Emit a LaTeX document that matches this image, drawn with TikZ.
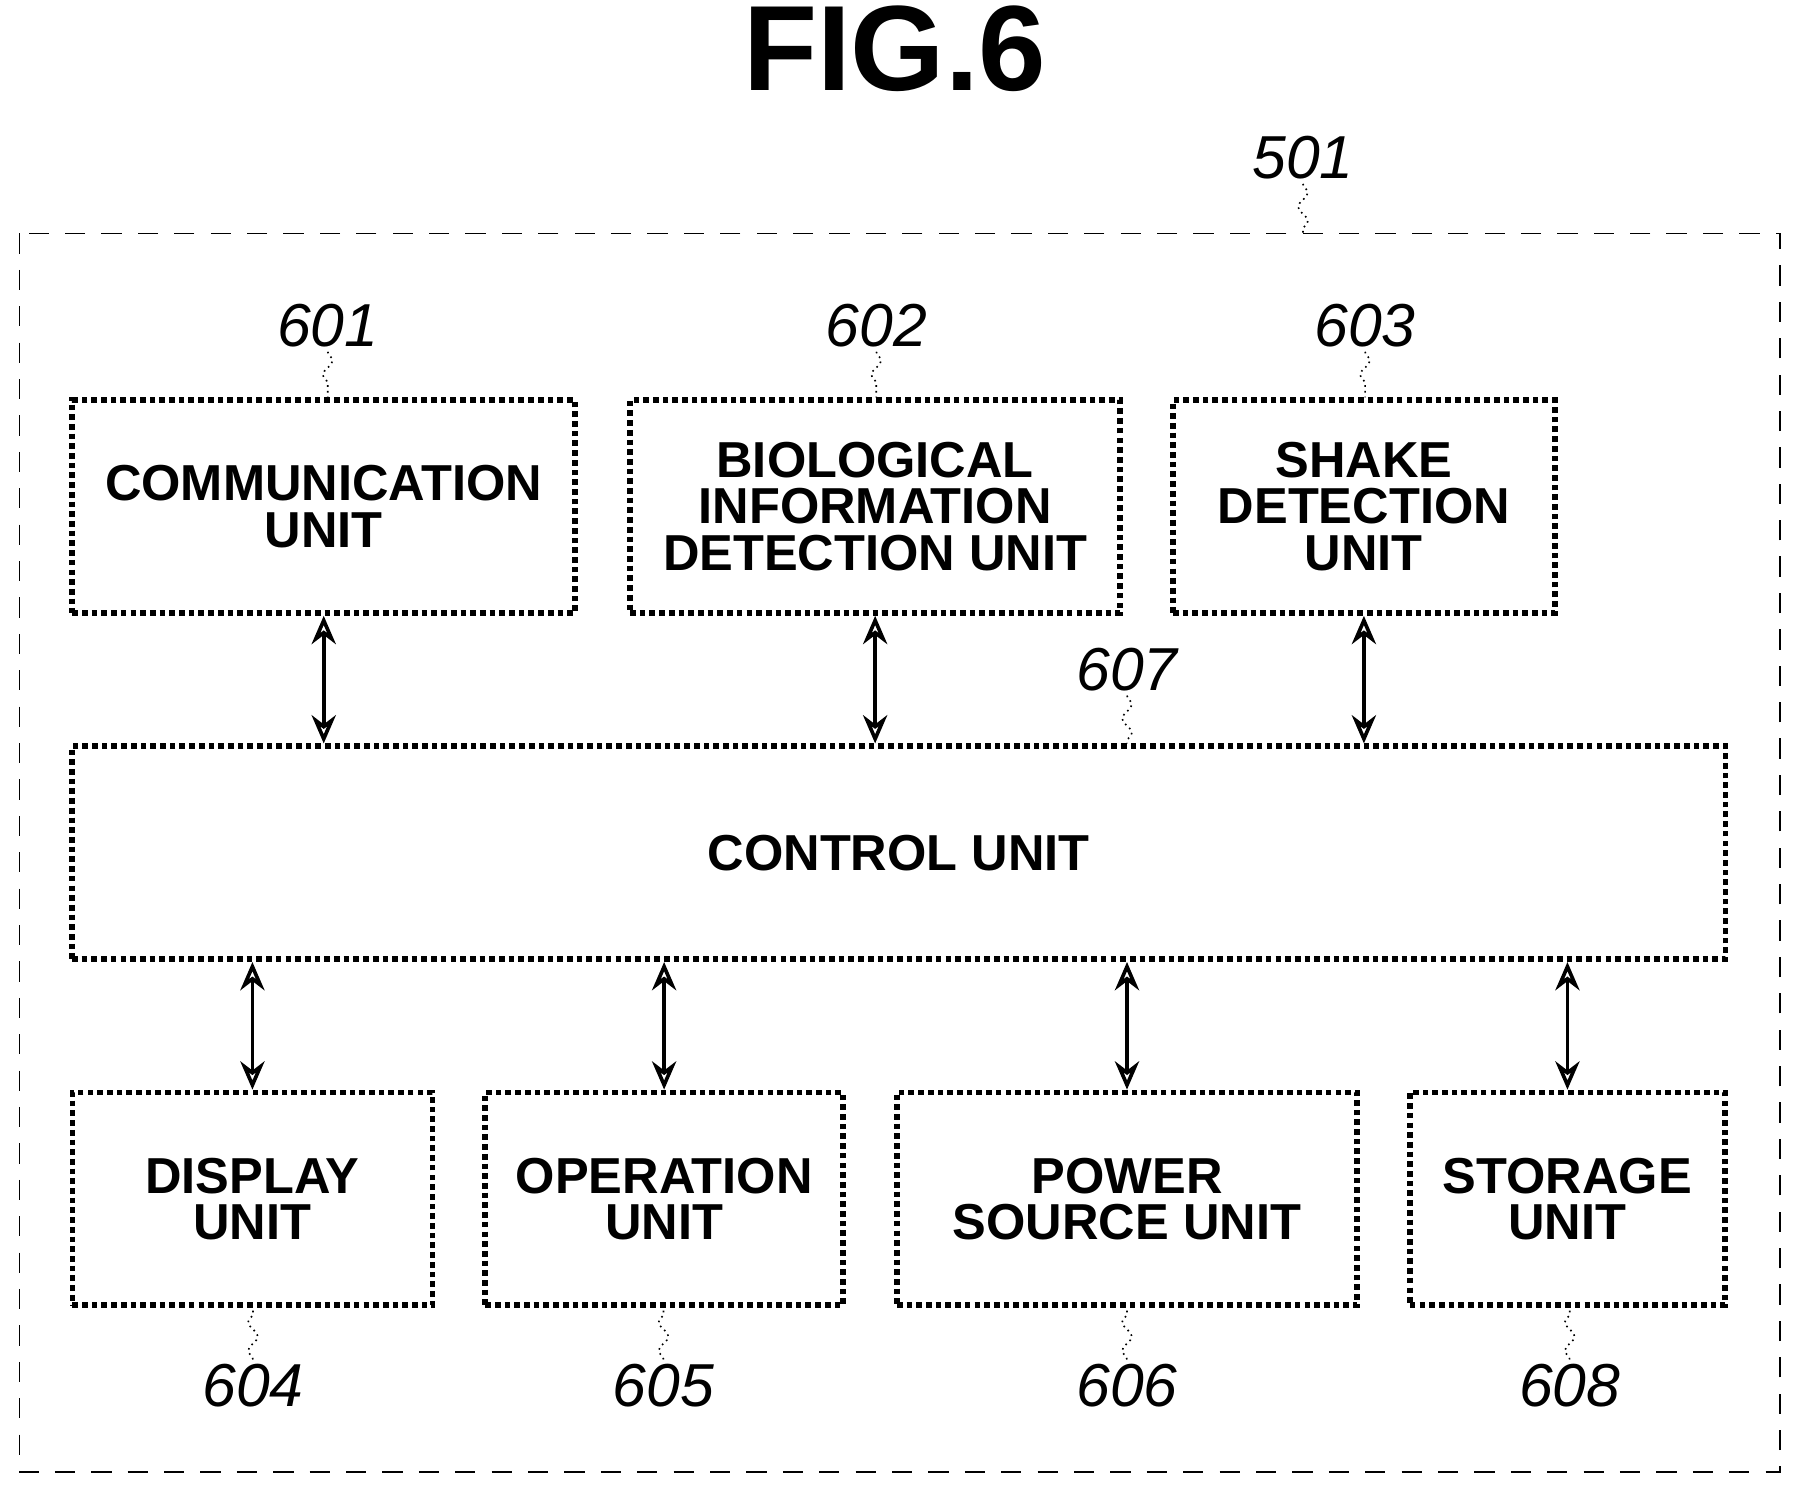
\documentclass[tikz,border=0pt]{standalone}
\usepackage{fontspec}
\setmainfont{Liberation Sans}
\usetikzlibrary{arrows.meta,decorations.pathmorphing}

\begin{document}
\begin{tikzpicture}[
    x=0.01cm, y=-0.01cm,
    block/.style={draw, densely dotted, line width=1.4pt, inner sep=0, align=center,
        minimum height=1.85cm, font=\fontsize{12.5}{11.5}\selectfont\bfseries},
    refnum/.style={font=\fontsize{15}{15}\selectfont\itshape, inner sep=1pt},
    leader/.style={densely dotted, thin, decorate,
        decoration={snake, amplitude=1.2pt, segment length=7pt}},
    link/.style={line width=0.9pt, {Stealth[open,length=7pt,width=6pt]}-{Stealth[open,length=7pt,width=6pt]}}
]
\useasboundingbox (0,0) rectangle (1560,1294);

\node[font=\fontsize{30}{30}\selectfont\bfseries] (title) at (778,42) {FIG.6};

% outer frame
\draw[thin, dash pattern=on 5pt off 4pt] (17,203) rectangle (1548,1280);
\node[refnum] (n501) at (1133,137) {501};
\draw[leader] (n501.south) -- (1133,203);

% upper row
\node[block, minimum width=4.37cm] (comm)  at (281.5,440.5) {COMMUNICATION\\UNIT};
\node[block, minimum width=4.26cm] (bio)   at (761,440.5)   {BIOLOGICAL\\INFORMATION\\DETECTION UNIT};
\node[block, minimum width=3.32cm] (shake) at (1186,440.5)  {SHAKE\\DETECTION\\UNIT};

% control
\node[block, minimum width=14.37cm] (ctrl) at (781.5,741.5) {CONTROL UNIT};

% lower row
\node[block, minimum width=3.13cm] (disp)  at (219.5,1042.5) {DISPLAY\\UNIT};
\node[block, minimum width=3.11cm] (oper)  at (577.5,1042.5) {OPERATION\\UNIT};
\node[block, minimum width=4.00cm] (power) at (980,1042.5)   {POWER\\SOURCE UNIT};
\node[block, minimum width=2.74cm] (store) at (1363,1042.5)  {STORAGE\\UNIT};

% reference numerals
\node[refnum] (n601) at (285,283) {601};
\node[refnum] (n602) at (762,283) {602};
\node[refnum] (n603) at (1187,283) {603};
\node[refnum] (n607) at (980,582) {607};
\node[refnum] (n604) at (220,1205) {604};
\node[refnum] (n605) at (577,1205) {605};
\node[refnum] (n606) at (980,1205) {606};
\node[refnum] (n608) at (1365,1205) {608};

\draw[leader] (n601.south) -- (comm.north -| n601);
\draw[leader] (n602.south) -- (bio.north -| n602);
\draw[leader] (n603.south) -- (shake.north -| n603);
\draw[leader] (n607.south) -- (ctrl.north -| n607);
\draw[leader] (n604.north) -- (disp.south -| n604);
\draw[leader] (n605.north) -- (oper.south -| n605);
\draw[leader] (n606.north) -- (power.south -| n606);
\draw[leader] (n608.north) -- (store.south -| n608);

% connections
\foreach \b in {comm, bio, shake}
  \draw[link] (\b.south) -- (\b.south |- ctrl.north);
\foreach \b in {disp, oper, power, store}
  \draw[link] (\b.north) -- (\b.north |- ctrl.south);

\end{tikzpicture}
\end{document}
